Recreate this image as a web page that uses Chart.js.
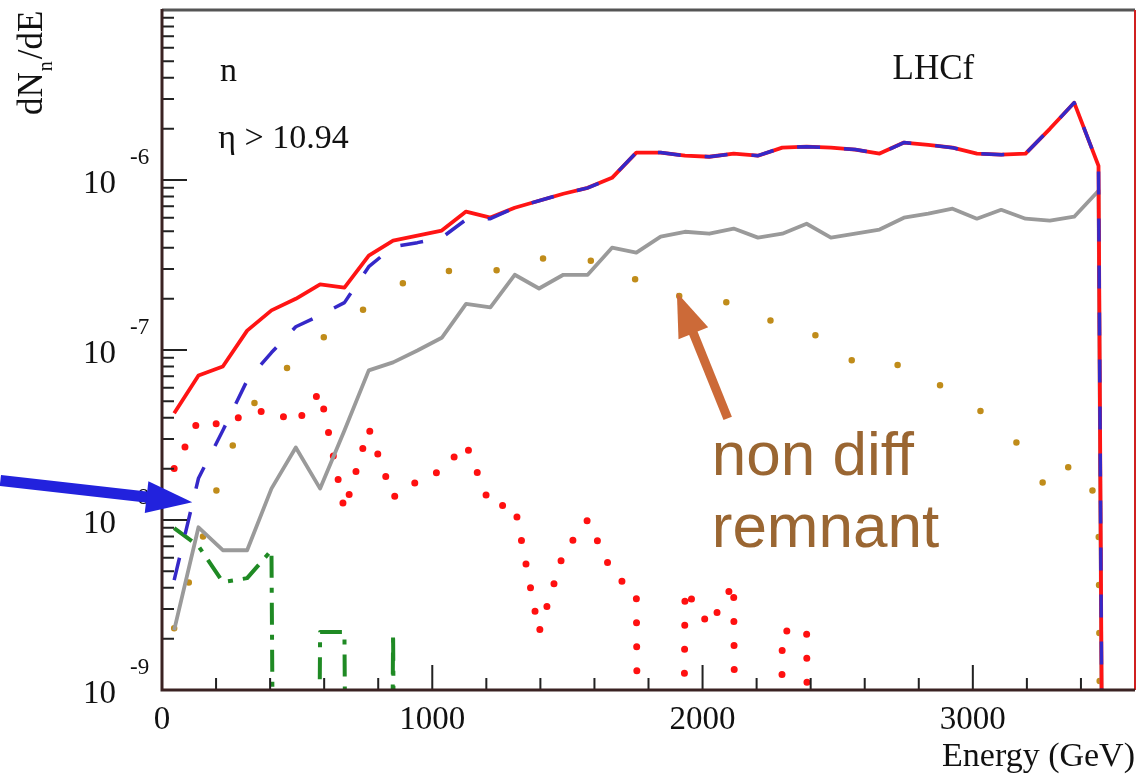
<!DOCTYPE html>
<html>
<head>
<meta charset="utf-8">
<script src="https://cdn.jsdelivr.net/npm/chart.js@4.4.1/dist/chart.umd.min.js"></script>
<style>
  html, body { margin: 0; padding: 0; background: #fff; }
  #chart { display: block; }
</style>
</head>
<body>
<canvas id="chart" width="1138" height="776"></canvas>
<script>
// --- Data: neutron spectra, eta > 10.94 (bin centres, 90 GeV bins) ---
const energies = [45, 135, 225, 315, 405, 495, 585, 675, 765, 855,
                  945, 1035, 1125, 1215, 1305, 1395, 1485, 1575, 1665, 1755,
                  1845, 1935, 2025, 2115, 2205, 2295, 2385, 2475, 2565, 2655,
                  2745, 2835, 2925, 3015, 3105, 3195, 3285, 3375, 3465, 3555];

// red solid
const totalN = [4.24e-8, 7.08e-8, 8.0e-8, 1.30e-7, 1.71e-7, 2.0e-7, 2.43e-7, 2.33e-7, 3.59e-7, 4.40e-7,
                4.71e-7, 5.04e-7, 6.52e-7, 6.01e-7, 6.87e-7, 7.55e-7, 8.30e-7, 8.99e-7, 1.03e-6, 1.45e-6,
                1.45e-6, 1.39e-6, 1.37e-6, 1.43e-6, 1.39e-6, 1.55e-6, 1.57e-6, 1.55e-6, 1.51e-6, 1.43e-6,
                1.66e-6, 1.61e-6, 1.55e-6, 1.43e-6, 1.41e-6, 1.43e-6, 2.0e-6, 2.85e-6, 1.21e-6, 0];
// blue dashed
const blueN = [4.43e-9, 1.76e-8, 3.36e-8, 6.62e-8, 9.66e-8, 1.37e-7, 1.60e-7, 1.90e-7, 3.09e-7, 4.05e-7,
               4.28e-7, 4.58e-7, 5.85e-7, 5.92e-7, 6.87e-7, 7.55e-7, 8.30e-7, 8.99e-7, 1.03e-6, 1.45e-6,
               1.45e-6, 1.39e-6, 1.37e-6, 1.43e-6, 1.39e-6, 1.55e-6, 1.57e-6, 1.55e-6, 1.51e-6, 1.43e-6,
               1.66e-6, 1.61e-6, 1.55e-6, 1.43e-6, 1.41e-6, 1.43e-6, 2.0e-6, 2.85e-6, 1.21e-6, 0];
// grey solid
const greyN = [2.25e-9, 9.06e-9, 6.64e-9, 6.64e-9, 1.53e-8, 2.67e-8, 1.53e-8, 3.36e-8, 7.59e-8, 8.46e-8,
               9.93e-8, 1.18e-7, 1.87e-7, 1.78e-7, 2.77e-7, 2.30e-7, 2.77e-7, 2.77e-7, 4.00e-7, 3.74e-7,
               4.64e-7, 4.96e-7, 4.83e-7, 5.18e-7, 4.58e-7, 4.83e-7, 5.53e-7, 4.58e-7, 4.83e-7, 5.11e-7,
               6.0e-7, 6.34e-7, 6.78e-7, 5.92e-7, 6.68e-7, 5.92e-7, 5.77e-7, 6.08e-7, 8.65e-7, 0];
// gold dotted ("non diff remnant")
const remnantN = [2.31e-9, 6.47e-9, 2.01e-8, 4.30e-8, 6.53e-8, 8.67e-8, 1.15e-7, 1.43e-7, 1.83e-7, 2.33e-7,
                  2.70e-7, 2.89e-7, 2.97e-7, 2.89e-7, 3.13e-7, 3.45e-7, 3.45e-7, 3.40e-7, 3.01e-7, 2.59e-7,
                  2.15e-7, 2.06e-7, 2.06e-7, 1.85e-7, 1.64e-7, 1.36e-7, 1.22e-7, 1.22e-7, 8.22e-8, 8.0e-8,
                  8.22e-8, 6.81e-8, 5.62e-8, 4.53e-8, 3.56e-8, 2.50e-8, 1.40e-8, 2.31e-8, 1.29e-8, 0];
// red dotted
const redDotN = [2.01e-8, 3.86e-8, 3.61e-8, 4.24e-8, 4.42e-8, 3.70e-8, 5.70e-8, 1.14e-8, 3.46e-8, 1.36e-8,
                 1.69e-8, 1.96e-8, 2.79e-8, 1.21e-8, 1.22e-8, 2.19e-9, 6.38e-9, 1.0e-8, 4.93e-9, 3.66e-9,
                 0, 3.92e-9, 2.38e-9, 4.25e-9, 0, 2.22e-9, 2.25e-9, 0, 0, 0,
                 0, 0, 0, 0, 0, 0, 0, 0, 0, 0];
// green dash-dot
const greenN = [8.96e-9, 7.02e-9, 4.31e-9, 4.55e-9, 6.64e-9, 0, 2.19e-9, 2.19e-9, 0, 2.16e-9,
                0, 0, 0, 0, 0, 0, 0, 0, 0, 0,
                0, 0, 0, 0, 0, 0, 0, 0, 0, 0,
                0, 0, 0, 0, 0, 0, 0, 0, 0, 0];

const xTickValues = [0, 1000, 2000, 3000];
const yDecades = [1e-9, 1e-8, 1e-7, 1e-6];

// empty bins: a tiny value so the line drops straight to the axis, as ROOT draws it on log-y
const ZERO_FLOOR = 1e-30;
function toPoints(values) {
    return energies.map((e, i) => ({ x: e, y: values[i] > 0 ? values[i] : ZERO_FLOOR }));
}

// --- Annotations (data coordinates) ---
const textNotes = [
    { text: 'n', x: 215, y: 3.83e-6, font: '34px "Liberation Serif"', color: '#111' },
    { text: '\u03b7 > 10.94', x: 208, y: 1.55e-6, font: '34px "Liberation Serif"', color: '#111' },
    { text: 'LHCf', x: 2703, y: 3.94e-6, font: '35px "Liberation Serif"', color: '#111' },
    { text: 'non diff', x: 2034, y: 1.83e-8, font: '62px "Liberation Sans"', color: '#9a6632' },
    { text: 'remnant', x: 2034, y: 6.92e-9, font: '62px "Liberation Sans"', color: '#9a6632' },
];
const arrowNotes = [
    { from: [2093, 3.96e-8], to: [1905, 2.18e-7], color: '#cc6a38', width: 9, head: 44, half: 16 },
    { from: [-598, 1.71e-8], to: [112, 1.27e-8], color: '#2222dd', width: 11, head: 46, half: 16 },
];

const SERIF = '"Liberation Serif", "Times New Roman", serif';

function drawArrow(ctx, x0, y0, x1, y1, color, shaft, headLen, headHalf) {
    const ang = Math.atan2(y1 - y0, x1 - x0);
    const c = Math.cos(ang), s = Math.sin(ang);
    const bx = x1 - headLen * c, by = y1 - headLen * s;
    ctx.strokeStyle = color;
    ctx.lineWidth = shaft;
    ctx.lineCap = 'butt';
    ctx.beginPath();
    ctx.moveTo(x0, y0);
    ctx.lineTo(bx + 4 * c, by + 4 * s);
    ctx.stroke();
    ctx.fillStyle = color;
    ctx.beginPath();
    ctx.moveTo(x1, y1);
    ctx.lineTo(bx + headHalf * s, by - headHalf * c);
    ctx.lineTo(bx - headHalf * s, by + headHalf * c);
    ctx.closePath();
    ctx.fill();
}

// ROOT-like frame: inward ticks, exponent labels, y title, notes
const rootFramePlugin = {
    id: 'rootFrame',
    afterDatasetsDraw(chart) {
        const { ctx, chartArea: a, scales: { x, y } } = chart;
        ctx.save();
        ctx.strokeStyle = '#222';
        ctx.lineWidth = 2;
        ctx.beginPath();
        for (let e = 0; e <= x.max; e += 200) {
            const px = x.getPixelForValue(e);
            const len = e % 1000 === 0 ? 25 : 12;
            ctx.moveTo(px, a.bottom);
            ctx.lineTo(px, a.bottom - len);
        }
        const d0 = Math.round(Math.log10(y.min)), d1 = Math.round(Math.log10(y.max));
        for (let d = d0; d < d1; d++) {
            for (let k = 1; k < 10; k++) {
                const py = y.getPixelForValue(k * Math.pow(10, d));
                const len = k === 1 ? 25 : 12;
                ctx.moveTo(a.left, py);
                ctx.lineTo(a.left + len, py);
            }
        }
        ctx.stroke();

        // frame
        ctx.lineWidth = 3;
        ctx.strokeStyle = '#555';
        ctx.beginPath(); ctx.moveTo(a.left, a.top); ctx.lineTo(a.right, a.top); ctx.stroke();
        ctx.lineWidth = 2;
        ctx.strokeStyle = '#d02020';
        ctx.beginPath(); ctx.moveTo(a.right, a.top); ctx.lineTo(a.right, a.bottom); ctx.stroke();
        ctx.lineWidth = 3;
        ctx.strokeStyle = '#3a2222';
        ctx.beginPath();
        ctx.moveTo(a.left, a.top - 1); ctx.lineTo(a.left, a.bottom); ctx.lineTo(a.right, a.bottom);
        ctx.stroke();

        // exponents of the 10^n labels
        ctx.fillStyle = '#111';
        ctx.font = '23px ' + SERIF;
        ctx.textAlign = 'left';
        ctx.textBaseline = 'middle';
        yDecades.forEach(v => {
            ctx.fillText(String(Math.round(Math.log10(v))), 130, y.getPixelForValue(v) - 22);
        });

        // y title dN_n/dE
        ctx.translate(42, 115);
        ctx.rotate(-Math.PI / 2);
        ctx.textBaseline = 'alphabetic';
        ctx.font = '35px ' + SERIF;
        ctx.fillText('dN', 0, 0);
        const w1 = ctx.measureText('dN').width;
        ctx.font = '20px ' + SERIF;
        ctx.fillText('n', w1 + 1, 10);
        const w2 = ctx.measureText('n').width;
        ctx.font = '35px ' + SERIF;
        ctx.fillText('/dE', w1 + w2 + 3, 0);
        ctx.restore();
    },
    afterDraw(chart) {
        const { ctx, scales: { x, y } } = chart;
        ctx.save();
        ctx.textAlign = 'left';
        ctx.textBaseline = 'alphabetic';
        textNotes.forEach(n => {
            ctx.font = n.font;
            ctx.fillStyle = n.color;
            ctx.fillText(n.text, x.getPixelForValue(n.x), y.getPixelForValue(n.y));
        });
        arrowNotes.forEach(ar => {
            drawArrow(ctx,
                x.getPixelForValue(ar.from[0]), y.getPixelForValue(ar.from[1]),
                x.getPixelForValue(ar.to[0]), y.getPixelForValue(ar.to[1]),
                ar.color, ar.width, ar.head, ar.half);
        });
        ctx.restore();
    }
};

const lineBase = { pointRadius: 0, pointHoverRadius: 0, tension: 0, fill: false, borderJoinStyle: 'round' };

new Chart(document.getElementById('chart'), {
    type: 'line',
    data: {
        datasets: [
            { ...lineBase, label: 'blue dashed', data: toPoints(blueN), borderColor: '#3528c8',
              borderWidth: 3.5, borderDash: [23, 24], borderCapStyle: 'butt', order: 0 },
            { ...lineBase, label: 'total', data: toPoints(totalN), borderColor: '#ff1414',
              borderWidth: 3.8, order: 1 },
            { ...lineBase, label: 'grey', data: toPoints(greyN), borderColor: '#9a9a9a',
              borderWidth: 3.8, order: 2 },
            { ...lineBase, label: 'non diff remnant', data: toPoints(remnantN), borderColor: '#c08c1a',
              borderWidth: 6.5, borderDash: [0, 48], borderCapStyle: 'round', order: 3 },
            { ...lineBase, label: 'red dotted', data: toPoints(redDotN), borderColor: '#ff1010',
              borderWidth: 7, borderDash: [0, 24], borderCapStyle: 'round', order: 4 },
            { ...lineBase, label: 'green dash-dot', data: toPoints(greenN), borderColor: '#1f8a24',
              borderWidth: 4, borderDash: [22, 10, 5, 10], borderCapStyle: 'butt', order: 5 },
        ]
    },
    options: {
        responsive: false,
        devicePixelRatio: 1,
        animation: false,
        layout: { padding: { top: 10, right: 3, left: 0, bottom: 0 } },
        scales: {
            x: {
                type: 'linear',
                min: 0,
                max: 3600,
                grid: { display: false, drawTicks: false },
                border: { display: false },
                afterBuildTicks: s => { s.ticks = xTickValues.map(v => ({ value: v })); },
                ticks: {
                    autoSkip: false, maxRotation: 0,
                    padding: 11, color: '#111', font: { family: SERIF, size: 33 },
                    callback: v => String(v)
                },
                title: {
                    display: true, text: 'Energy (GeV)', align: 'end', color: '#111',
                    font: { family: SERIF, size: 34, lineHeight: 1 },
                    padding: { top: 0, bottom: 2 }
                },
                afterFit: s => { s.height = 86; s.paddingLeft = 0; s.paddingRight = 0; }
            },
            y: {
                type: 'logarithmic',
                min: 1e-9,
                max: 1e-5,
                grid: { display: false, drawTicks: false },
                border: { display: false },
                afterBuildTicks: s => { s.ticks = yDecades.map(v => ({ value: v })); },
                ticks: {
                    autoSkip: false, padding: 46, labelOffset: 4, color: '#111',
                    font: { family: SERIF, size: 33 },
                    callback: () => '10'
                },
                afterFit: s => { s.width = 162; s.paddingTop = 0; s.paddingBottom = 0; }
            }
        },
        plugins: {
            legend: { display: false },
            tooltip: { enabled: false }
        }
    },
    plugins: [rootFramePlugin]
});
</script>
</body>
</html>
